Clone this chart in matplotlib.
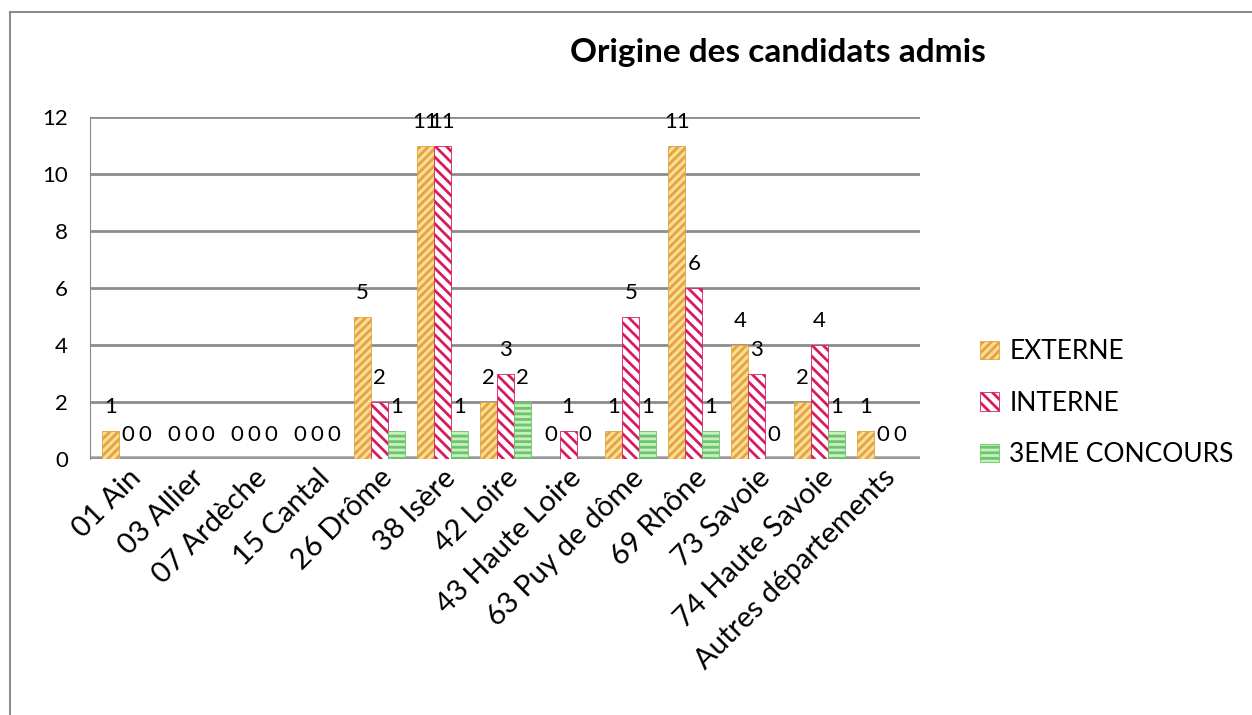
import matplotlib.pyplot as plt
import matplotlib
import numpy as np
from matplotlib.patches import Rectangle

matplotlib.rcParams['font.family'] = ['Lato', 'DejaVu Sans']
matplotlib.rcParams['hatch.linewidth'] = 2.0

departements = ['01 Ain', '03 Allier', '07 Ardèche', '15 Cantal', '26 Drôme', '38 Isère',
                '42 Loire', '43 Haute Loire', '63 Puy de dôme', '69 Rhône', '73 Savoie',
                '74 Haute Savoie', 'Autres départements']
externe = [1, 0, 0, 0, 5, 11, 2, 0, 1, 11, 4, 2, 1]
interne = [0, 0, 0, 0, 2, 11, 3, 1, 5, 6, 3, 4, 0]
concours3 = [0, 0, 0, 0, 1, 1, 2, 0, 1, 1, 0, 1, 0]
series_noms = ['EXTERNE', 'INTERNE', '3EME CONCOURS']

styles = [
    dict(facecolor='#F9DB9A', edgecolor='#E3A43C', hatch='////'),
    dict(facecolor='#FFFFFF', edgecolor='#D81B60', hatch='\\\\\\'),
    dict(facecolor='#C8EFC0', edgecolor='#6CC46C', hatch='---'),
]

fig = plt.figure(figsize=(12.52, 7.15), dpi=100)
ax = fig.add_axes([0.072, 0.358, 0.663, 0.478])

x = np.arange(len(departements))
w = 0.27
for i, (vals, st) in enumerate(zip([externe, interne, concours3], styles)):
    pos = x + (i - 1) * w
    ax.bar(pos, vals, w, linewidth=0.6, label=series_noms[i], **st)
    for p, v in zip(pos, vals):
        ax.annotate(str(v), (p, v), xytext=(0, 10), textcoords='offset points',
                    ha='center', va='bottom', fontsize=16)

ax.set_xlim(-0.6, len(departements) - 0.4)
ax.set_ylim(0, 12)
ax.set_yticks(range(0, 13, 2))
ax.yaxis.grid(True, color='#8C8C8C', linewidth=2)
ax.set_axisbelow(True)
for s in ['top', 'right', 'bottom']:
    ax.spines[s].set_visible(False)
ax.spines['left'].set_color('#8C8C8C')
ax.axhline(0, color='#A0A0A0', linewidth=4, zorder=0)
ax.tick_params(axis='y', length=0, labelsize=16, pad=16)
ax.tick_params(axis='x', length=0, pad=4)
ax.set_xticks(x)
ax.set_xticklabels(departements, rotation=45, ha='right', rotation_mode='anchor', fontsize=21)

fig.text(0.621, 0.927, 'Origine des candidats admis', ha='center', va='center',
         fontsize=24, fontweight='bold')

leg = fig.legend(loc='center left', bbox_to_anchor=(0.764, 0.436), frameon=False,
                 fontsize=19, handlelength=0.7, handleheight=0.7, labelspacing=1.0,
                 handletextpad=0.4)

fig.patches.append(Rectangle((10 / 1252, -0.01), 1.1, 1 - 12 / 715 + 0.01,
                             transform=fig.transFigure, fill=False,
                             edgecolor='#8C8C8C', linewidth=1.5))

plt.savefig('out.png', dpi=100)
